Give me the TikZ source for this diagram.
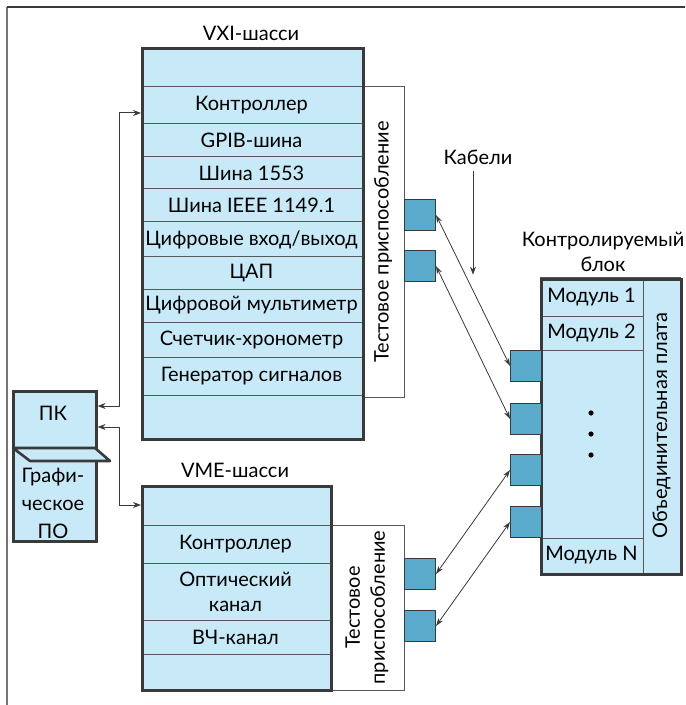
\documentclass[tikz,border=0pt]{standalone}
\usepackage{fontspec}
\setmainfont{Lato}
\usepackage{xcolor}
\usepackage{tikz}
\usetikzlibrary{positioning, calc, arrows.meta}

\definecolor{panelblue}{HTML}{C8E9F8}
\definecolor{portblue}{HTML}{5AABCB}
\definecolor{edgegray}{HTML}{3A3A3A}

\tikzset{
    txt/.style={font=\fontsize{10}{12.5}\selectfont, inner sep=0pt},
    frame/.style={draw=edgegray, line width=1.3pt},
    slot/.style={draw=edgegray!85, line width=0.5pt},
    jig/.style={draw=edgegray!85, line width=0.5pt, fill=white},
    port/.style={draw=edgegray, line width=0.5pt, fill=portblue,
        minimum width=15.5pt, minimum height=15.5pt, inner sep=0pt, anchor=north west},
    link/.style={draw=edgegray, line width=0.5pt,
        {Stealth[length=4pt,width=3pt]}-{Stealth[length=4pt,width=3pt]}},
    cable/.style={draw=edgegray, line width=0.4pt,
        {Stealth[length=4pt,width=2.6pt]}-{Stealth[length=4pt,width=2.6pt]}}
}

\begin{document}
\begin{tikzpicture}[x=0.5pt, y=-0.5pt]
    \useasboundingbox (0,0) rectangle (685,705);

    % page frame
    \draw[edgegray!70, line width=1pt] (7,705) -- (7,7);
    \draw[edgegray, line width=1pt] (7,7) -- (685,7);

    % ---- VXI chassis ----
    \node[txt] (vxititle) at (251,33) {VXI-шасси};
    \draw[jig] (362,87) rectangle (404,397)
        node[pos=.5, txt, rotate=90] (vxijig) {Тестовое приспособление};
    \fill[panelblue] (141,47) rectangle (362,438);
    \foreach \top/\bot/\name [count=\i] in {87/124/Контроллер, 124/157/GPIB-шина,
        157/189/Шина 1553, 189/222/Шина IEEE 1149.1, 222/257/Цифровые вход\slash выход,
        257/289/ЦАП, 289/322/Цифровой мультиметр, 322/357/Счетчик-хронометр,
        357/395/Генератор сигналов}
    {
        \draw[slot] (141,\top) rectangle (362,\bot)
            node[pos=.5, txt] (vxirow\i) {\name};
    }
    \node[frame, minimum width=110.5pt, minimum height=195.5pt,
        anchor=north west, inner sep=0pt] (vxi) at (141,47) {};

    \node[port] (vxiportA) at (404,199) {};
    \node[port] (vxiportB) at (404,250) {};

    % ---- VME chassis ----
    \node[txt] (vmetitle) at (235,470) {VME-шасси};
    \draw[jig] (330,525) rectangle (404,690)
        node[pos=.5, txt, rotate=90, align=center] (vmejig) {Тестовое\\приспособление};
    \fill[panelblue] (141,485) rectangle (330,689);
    \draw[slot] (141,525) rectangle (330,563) node[pos=.5, txt] (vmerow1) {Контроллер};
    \draw[slot] (141,563) rectangle (330,620)
        node[pos=.5, txt, align=center] (vmerow2) {Оптический\\канал};
    \draw[slot] (141,620) rectangle (330,654) node[pos=.5, txt] (vmerow3) {ВЧ-канал};
    \node[frame, minimum width=94.5pt, minimum height=102pt,
        anchor=north west, inner sep=0pt] (vme) at (141,485) {};

    \node[port] (vmeportA) at (404,558) {};
    \node[port] (vmeportB) at (404,610) {};

    % ---- PC ----
    \node[frame, fill=panelblue, minimum width=41.5pt, minimum height=75pt,
        anchor=north west, inner sep=0pt] (pc) at (12,390) {};
    \draw[frame, fill=panelblue, line join=round]
        (13,448) -- (95,448) -- (110,461) -- (30,461) -- cycle;
    \node[txt] (pcname) at (53,413) {ПК};
    \node[txt, align=center, font=\fontsize{10}{14}\selectfont] (pcsoft) at (53,503)
        {Графи-\\ческое\\ПО};

    \draw[link] ($(pc.north east)+(0,16)$) -- ++(22,0) |- ($(vxi.north west)+(0,66)$);
    \draw[link] ($(pc.north east)+(0,37)$) -- ++(22,0) |- ($(vme.north west)+(0,20)$);

    % ---- unit under test ----
    \node[txt, align=center] (duttitle) at (603,252) {Контролируемый\\блок};
    \fill[panelblue] (540,278) rectangle (680,573);
    \draw[slot] (540,278) rectangle (643,316) node[pos=.5, txt] (mod1) {Модуль 1};
    \draw[slot] (540,316) rectangle (643,350) node[pos=.5, txt] (mod2) {Модуль 2};
    \draw[slot] (540,538) rectangle (643,573) node[pos=.5, txt] (modN) {Модуль N};
    \draw[slot] (643,278) rectangle (680,573)
        node[pos=.5, txt, rotate=90] (backplane) {Объединительная плата};
    \foreach \y in {413,434,455}
        \fill (591,\y) circle[radius=1.3pt];
    \node[frame, minimum width=70pt, minimum height=147.5pt,
        anchor=north west, inner sep=0pt] (dut) at (540,278) {};

    \node[port] (dutA) at (510,350) {};
    \node[port] (dutB) at (510,403) {};
    \node[port] (dutC) at (510,454) {};
    \node[port] (dutD) at (510,506) {};

    % cables
    \node[txt] (cables) at (478,157) {Кабели};
    \draw[edgegray, line width=0.5pt, -{Stealth[length=4pt,width=3pt]}]
        ([xshift=-2.5pt, yshift=-3pt]cables.south) -- ++(0,104);
    \draw[cable] (vxiportA.east) -- (dutA.west);
    \draw[cable] (vxiportB.east) -- (dutB.west);
    \draw[cable] (vmeportA.east) -- (dutC.west);
    \draw[cable] (vmeportB.east) -- (dutD.west);

\end{tikzpicture}
\end{document}
